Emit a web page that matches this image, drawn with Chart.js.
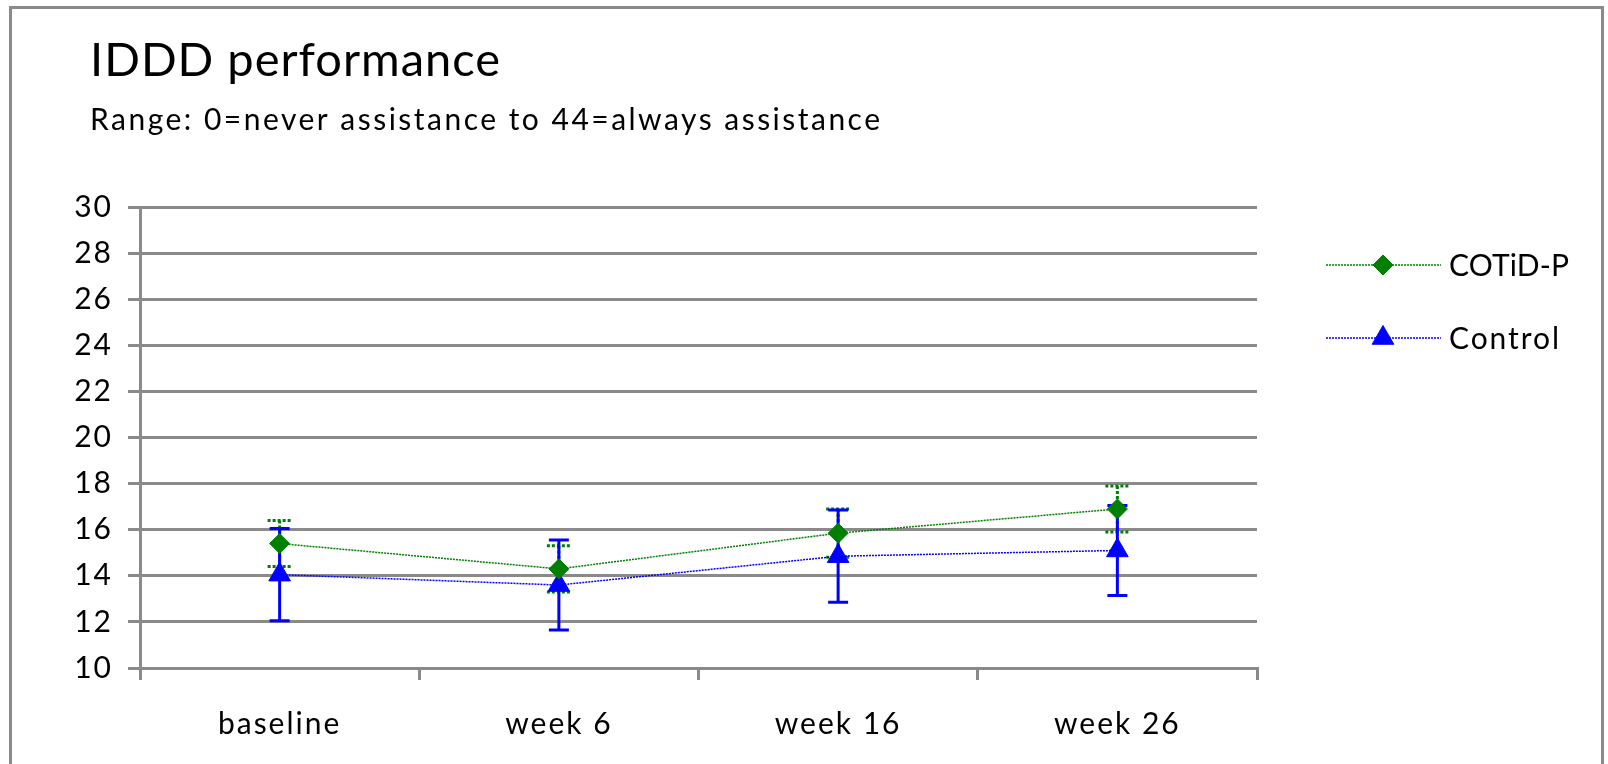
<!DOCTYPE html>
<html><head><meta charset="utf-8">
<script src="https://cdn.jsdelivr.net/npm/chart.js@4/dist/chart.umd.min.js"></script>
<style>
html,body{margin:0;padding:0;background:#fff;width:1608px;height:764px;overflow:hidden}
#frame{position:absolute;left:9px;top:6px;width:1595px;height:820px;border:3px solid #8a8a8a;box-sizing:border-box}
canvas{position:absolute;left:0;top:0}
</style></head><body>
<div id="frame"></div>
<canvas id="c" width="1608" height="764"></canvas>
<script>
const categories = ['baseline', 'week 6', 'week 16', 'week 26'];
const seriesNames = ['COTiD-P', 'Control'];
const cotidMean = [15.4, 14.3, 15.85, 16.9];
const cotidErr = [1.0, 1.0, 1.05, 1.0];
const controlMean = [14.05, 13.6, 14.85, 15.1];
const controlErr = [2.0, 1.95, 2.0, 1.95];
const yTickValues = [10, 12, 14, 16, 18, 20, 22, 24, 26, 28, 30];
const titleText = 'IDDD performance';
const subtitleText = 'Range: 0=never assistance to 44=always assistance';

const GREEN = '#008000', BLUE = '#0000ff', GRID = '#8a8a8a';
const FONT = 'Lato, Carlito, Calibri, sans-serif';

const errors = [cotidErr, controlErr];
const means = [cotidMean, controlMean];

function fitText(ctx, text, x, y, font, targetWidth) {
  ctx.save();
  ctx.font = font;
  ctx.letterSpacing = '0px';
  const w = ctx.measureText(text).width;
  const sp = Math.max(0, (targetWidth - w) / (text.length - 1));
  ctx.letterSpacing = sp.toFixed(2) + 'px';
  ctx.fillText(text, x, y);
  ctx.restore();
}

const textPlugin = {
  id: 'texts',
  beforeDraw(chart) {
    chart.ctx.letterSpacing = '2px';
  },
  afterDraw(chart) {
    const ctx = chart.ctx;
    ctx.save();
    ctx.fillStyle = '#000';
    ctx.textAlign = 'left';
    ctx.textBaseline = 'alphabetic';
    fitText(ctx, titleText, 90, 76, '47px ' + FONT, 410);
    fitText(ctx, subtitleText, 90, 130, '30px ' + FONT, 790);
    ctx.restore();
  }
};

const errorBarPlugin = {
  id: 'errorBars',
  beforeDatasetsDraw(chart) {
    const ctx = chart.ctx, x = chart.scales.x, y = chart.scales.y;
    const styles = [
      {color: GREEN, width: 3, dash: [3, 2], cap: 12},
      {color: BLUE, width: 3, dash: [], cap: 10}
    ];
    [0, 1].forEach(si => {
      const st = styles[si];
      ctx.save();
      ctx.strokeStyle = st.color;
      ctx.lineWidth = st.width;
      ctx.setLineDash(st.dash);
      means[si].forEach((m, i) => {
        const px = x.getPixelForValue(i);
        const top = y.getPixelForValue(m + errors[si][i]);
        const bot = y.getPixelForValue(m - errors[si][i]);
        ctx.beginPath();
        ctx.moveTo(px, top); ctx.lineTo(px, bot);
        ctx.moveTo(px - st.cap, top); ctx.lineTo(px + st.cap, top);
        ctx.moveTo(px - st.cap, bot); ctx.lineTo(px + st.cap, bot);
        ctx.stroke();
      });
      ctx.restore();
    });
  }
};

const legendPlugin = {
  id: 'sideLegend',
  afterDraw(chart) {
    const ctx = chart.ctx;
    const rows = [265, 338];
    chart.data.datasets.forEach((ds, i) => {
      const yy = rows[i];
      ctx.save();
      ctx.strokeStyle = ds.borderColor;
      ctx.lineWidth = 1.5;
      ctx.setLineDash([2, 1]);
      ctx.beginPath(); ctx.moveTo(1326, yy); ctx.lineTo(1441, yy); ctx.stroke();
      ctx.setLineDash([]);
      ctx.fillStyle = ds.pointBackgroundColor;
      ctx.strokeStyle = ds.pointBorderColor;
      ctx.lineWidth = 1;
      Chart.helpers.drawPoint(ctx, {pointStyle: ds.pointStyle, radius: ds.pointRadius, rotation: 0, borderWidth: 1}, 1383, yy);
      ctx.fillStyle = '#000';
      ctx.textBaseline = 'middle';
      ctx.textAlign = 'left';
      fitText(ctx, ds.label, 1449, yy + 1, '30px ' + FONT, i === 0 ? 120 : 110);
      ctx.restore();
    });
  }
};

new Chart(document.getElementById('c'), {
  type: 'line',
  data: {
    labels: categories,
    datasets: [
      {label: seriesNames[0], data: cotidMean, borderColor: GREEN, borderWidth: 1.5, borderDash: [2, 1],
       pointStyle: 'rectRot', pointRadius: 10, pointBackgroundColor: GREEN, pointBorderColor: GREEN, pointBorderWidth: 1},
      {label: seriesNames[1], data: controlMean, borderColor: BLUE, borderWidth: 1.5, borderDash: [2, 1],
       pointStyle: 'triangle', pointRadius: 12.5, pointBackgroundColor: BLUE, pointBorderColor: BLUE, pointBorderWidth: 1}
    ]
  },
  options: {
    responsive: false,
    animation: false,
    events: [],
    layout: {padding: {left: 20, right: 351, top: 207, bottom: 0}},
    plugins: {
      legend: {display: false},
      tooltip: {enabled: false},
      title: {display: false},
      subtitle: {display: false}
    },
    scales: {
      x: {
        type: 'category', offset: true,
        grid: {offset: true, drawOnChartArea: false, drawTicks: true, tickLength: 12, color: GRID, lineWidth: 3},
        border: {color: GRID, width: 3},
        ticks: {color: '#000', font: {family: FONT, size: 30}, padding: 26, maxRotation: 0},
        afterFit(s) { s.height = 96; }
      },
      y: {
        min: 10, max: 30,
        afterBuildTicks(s) { s.ticks = yTickValues.map(v => ({value: v})); },
        grid: {color: GRID, lineWidth: 3, tickLength: 12, drawTicks: true},
        border: {color: GRID, width: 3},
        ticks: {color: '#000', font: {family: FONT, size: 30}, padding: 15},
        afterFit(s) { s.width = 120; }
      }
    }
  },
  plugins: [textPlugin, errorBarPlugin, legendPlugin]
});
</script>
</body></html>
